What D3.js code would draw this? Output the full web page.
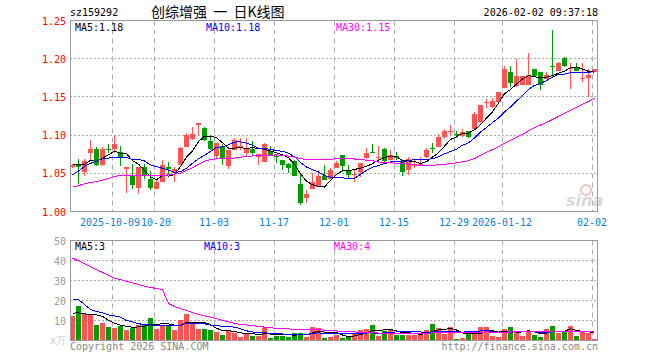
<!DOCTYPE html>
<html>
<head>
<meta charset="utf-8">
<script src="https://cdn.jsdelivr.net/npm/d3@7"></script>
<style>
  body { margin: 0; background: #fff; }
  text { font-family: "DejaVu Sans Mono", monospace; font-size: 10px; }
</style>
</head>
<body>
<div id="graph"></div>
<script>
// trading days shown
const dates = [
  "2025-09-22","2025-09-23","2025-09-24","2025-09-25","2025-09-26","2025-09-29","2025-09-30",
  "2025-10-09","2025-10-10","2025-10-13","2025-10-14","2025-10-15","2025-10-16","2025-10-17",
  "2025-10-20","2025-10-21","2025-10-22","2025-10-23","2025-10-24","2025-10-27","2025-10-28",
  "2025-10-29","2025-10-30","2025-10-31",
  "2025-11-03","2025-11-04","2025-11-05","2025-11-06","2025-11-07","2025-11-10","2025-11-11",
  "2025-11-12","2025-11-13","2025-11-14","2025-11-17","2025-11-18","2025-11-19","2025-11-20",
  "2025-11-21","2025-11-24","2025-11-25","2025-11-26","2025-11-27","2025-11-28",
  "2025-12-01","2025-12-02","2025-12-03","2025-12-04","2025-12-05","2025-12-08","2025-12-09",
  "2025-12-10","2025-12-11","2025-12-12","2025-12-15","2025-12-16","2025-12-17","2025-12-18",
  "2025-12-19","2025-12-22","2025-12-23","2025-12-24","2025-12-25","2025-12-26","2025-12-29",
  "2025-12-30","2025-12-31",
  "2026-01-05","2026-01-06","2026-01-07","2026-01-08","2026-01-09","2026-01-12","2026-01-13",
  "2026-01-14","2026-01-15","2026-01-16","2026-01-19","2026-01-20","2026-01-21","2026-01-22",
  "2026-01-23","2026-01-26","2026-01-27","2026-01-28","2026-01-29","2026-01-30",
  "2026-02-02"
];

const opens = [
  1.058,1.062,1.052,1.076,1.082,1.061,1.082,1.082,1.078,1.055,1.048,1.031,1.058,1.043,1.030,1.038,
  1.058,1.050,1.061,1.085,1.095,1.113,1.109,1.092,1.072,1.085,1.060,1.081,1.085,1.076,1.082,1.071,
  1.065,1.079,1.073,1.068,1.062,1.066,1.036,1.018,1.030,1.032,1.046,1.042,1.057,1.074,1.053,1.048,
  1.052,1.070,1.078,1.070,1.082,1.068,1.072,1.066,1.054,1.060,1.061,1.071,1.083,1.085,1.098,1.105,
  1.101,1.099,1.105,1.108,1.117,1.142,1.137,1.143,1.162,1.183,1.164,1.166,1.166,1.187,1.183,1.173,
  1.191,1.184,1.201,1.186,1.188,1.174,1.175,1.183
];
const highs = [
  1.062,1.069,1.069,1.094,1.084,1.085,1.089,1.100,1.086,1.058,1.062,1.058,1.062,1.053,1.042,1.067,
  1.065,1.058,1.084,1.103,1.110,1.116,1.111,1.100,1.090,1.088,1.081,1.096,1.096,1.096,1.092,1.075,
  1.090,1.086,1.074,1.068,1.064,1.068,1.048,1.028,1.050,1.054,1.061,1.057,1.066,1.074,1.061,1.055,
  1.063,1.083,1.088,1.086,1.083,1.081,1.078,1.067,1.071,1.069,1.071,1.083,1.090,1.101,1.108,1.113,
  1.106,1.108,1.105,1.130,1.140,1.147,1.149,1.157,1.190,1.191,1.200,1.178,1.207,1.187,1.183,1.182,
  1.237,1.196,1.202,1.194,1.195,1.195,1.186,1.186
];
const lows = [
  1.057,1.036,1.047,1.068,1.060,1.060,1.077,1.077,1.060,1.024,1.029,1.023,1.042,1.028,1.029,1.038,
  1.048,1.038,1.061,1.084,1.093,1.100,1.092,1.081,1.069,1.061,1.056,1.080,1.081,1.072,1.072,1.061,
  1.065,1.072,1.064,1.054,1.050,1.046,1.009,1.011,1.029,1.032,1.041,1.042,1.057,1.052,1.043,1.039,
  1.045,1.069,1.077,1.063,1.064,1.067,1.068,1.046,1.048,1.057,1.060,1.070,1.077,1.085,1.095,1.100,
  1.096,1.097,1.096,1.108,1.116,1.136,1.136,1.143,1.162,1.163,1.163,1.165,1.166,1.176,1.159,1.173,
  1.176,1.184,1.189,1.160,1.184,1.170,1.150,1.183
];
const closes = [
  1.061,1.058,1.066,1.082,1.061,1.082,1.080,1.089,1.070,1.058,1.035,1.058,1.046,1.031,1.038,1.061,
  1.056,1.056,1.083,1.100,1.102,1.116,1.093,1.082,1.090,1.069,1.081,1.093,1.086,1.082,1.076,1.075,
  1.089,1.073,1.072,1.061,1.057,1.046,1.011,1.023,1.038,1.047,1.041,1.054,1.064,1.060,1.048,1.049,
  1.063,1.076,1.077,1.071,1.066,1.074,1.070,1.052,1.069,1.062,1.062,1.081,1.082,1.097,1.105,1.106,
  1.100,1.104,1.098,1.127,1.139,1.143,1.145,1.156,1.187,1.168,1.178,1.178,1.179,1.178,1.165,1.179,
  1.189,1.194,1.191,1.188,1.184,1.175,1.179,1.186
];
// volume, 万手
const volumes = [
  12.5,17.5,13.3,12.8,8,9,7,6.5,7.5,5.5,6.5,8,8.3,11.5,6,8,7.5,5.5,10.5,13.5,8.5,6,6,5.5,
  4.5,3,5.5,4,2,3.5,2.5,2.2,6.5,1.5,2.5,2.5,2,4,4,2,7,6.5,1.5,1.8,2.8,1.2,2.0,3.8,5.2,6.0,
  8.0,2.5,4.8,6.0,3.0,3.0,2.7,2.7,3.8,5.2,8.5,6.5,3.2,7.0,1.0,1.2,5.0,3.3,7.0,7.0,2.2,1.7,
  5.8,7.0,4.3,2.5,4.7,3.0,2.0,6.0,7.5,3.7,4.2,7.5,2.5,4.2,3.7,0.8
];

// moving average values before enough days are on screen
const ma5Head = [1.062, 1.062, 1.062, 1.067];
const ma10Head = [1.048, 1.053, 1.059, 1.063, 1.066, 1.069, 1.070, 1.071, 1.071];
const ma30Head = [
  1.032,1.034,1.036,1.038,1.039,1.041,1.043,1.046,1.047,1.047,1.047,1.047,1.047,1.047,1.047,
  1.047,1.048,1.049,1.050,1.054,1.057,1.062,1.066,1.068,1.069,1.069,1.070,1.070,1.071
];
const volMa5Head = [13.7, 13.8, 13.3, 13];
const volMa10Head = [20.5, 20.5, 18, 15.5, 14.5, 13.8, 12.8, 12.3, 11.7];
const volMa30Head = [
  41.2,39.8,38.3,36.8,35.4,34,32.6,31.2,30.4,29.6,28.8,28.0,27.2,26.5,26,25.3,18.5,17,16,15,
  14,13,12.3,11.7,11,10,9.3,8.6,8
];

const tickDates = ["2025-10-09","2025-10-20","2025-11-03","2025-11-17","2025-12-01",
  "2025-12-15","2025-12-29","2026-01-12","2026-02-02"];
const tickLabels = ["2025-10-09","10-20","11-03","11-17","12-01","12-15","12-29","2026-01-12","02-02"];
const priceTicks = [1.00, 1.05, 1.10, 1.15, 1.20, 1.25];
const volTicks = [10, 20, 30, 40, 50];
const priceMaLabels = ["MA5:1.18", "MA10:1.18", "MA30:1.15"];
const volMaLabels = ["MA5:3", "MA10:3", "MA30:4"];

const red = "#ff5252", green = "#009c00", grid = "#aaa", border = "#999";
const maColors = ["#000", "#0000ff", "#ff00ff"];

const svg = d3.select("#graph")
    .append("svg")
    .attr("width", 660)
    .attr("height", 360);

// scales
const x = d3.scaleBand().domain(dates).range([70, 597]).paddingInner(1 / 6).paddingOuter(0).align(0);
const yP = d3.scaleLinear().domain([1.00, 1.25]).range([211.5, 20.5]);
const yV = d3.scaleLinear().domain([0, 50]).range([340.5, 240.5]);
const cx = d => Math.round(x(d)) + 2.5;

function movingAvg(vals, n, head) {
    return vals.map((v, i) => i < n - 1 ? head[i] : d3.mean(vals.slice(i - n + 1, i + 1)));
}

// title line
svg.append("text").attr("x", 70).attr("y", 16).text("sz159292");
svg.append("text").attr("x", 151).attr("y", 17)
    .style("font-family", "'Noto Sans CJK SC', sans-serif").style("font-size", "14px")
    .style("white-space", "pre")
    .text("创综增强  一  日K线图");
svg.append("text").attr("x", 598).attr("y", 16).attr("text-anchor", "end").text("2026-02-02 09:37:18");

// panel grids
function drawGrid(yScale, ticks, y0, y1) {
    svg.append("g").selectAll("line")
        .data(ticks)
        .enter().append("line")
        .attr("x1", 70).attr("x2", 597)
        .attr("y1", d => Math.round(yScale(d) - 0.5) + 0.5)
        .attr("y2", d => Math.round(yScale(d) - 0.5) + 0.5)
        .style("stroke", grid).style("stroke-dasharray", "2,2");
    svg.append("g").selectAll("line")
        .data(tickDates)
        .enter().append("line")
        .attr("x1", d => Math.round(x(d)) + 0.5).attr("x2", d => Math.round(x(d)) + 0.5)
        .attr("y1", y0).attr("y2", y1)
        .style("stroke", grid).style("stroke-dasharray", "5,4");
}
drawGrid(yP, priceTicks.slice(1, -1), 20.5, 211.5);
drawGrid(yV, volTicks.slice(0, -1), 240.5, 340.5);

// sina watermark
svg.append("circle").attr("cx", 586).attr("cy", 190).attr("r", 5)
    .style("fill", "none").style("stroke", "#f0c0c0").style("stroke-width", 2);
svg.append("text").attr("x", 566).attr("y", 206)
    .style("font-family", "'DejaVu Sans', sans-serif").style("font-size", "16px")
    .style("font-style", "italic").style("font-weight", "bold").style("fill", "#d8d8d8")
    .text("sina");

// candles
const candles = svg.append("g").selectAll("g")
    .data(dates)
    .enter().append("g")
    .style("shape-rendering", "crispEdges");

candles.append("line")
    .attr("x1", d => cx(d)).attr("x2", d => cx(d))
    .attr("y1", (d, i) => yP(highs[i])).attr("y2", (d, i) => yP(lows[i]))
    .style("stroke", (d, i) => closes[i] >= opens[i] ? red : green);

candles.append("rect")
    .attr("x", d => Math.round(x(d)))
    .attr("width", x.bandwidth())
    .attr("y", (d, i) => yP(Math.max(opens[i], closes[i])))
    .attr("height", (d, i) => Math.max(1, yP(Math.min(opens[i], closes[i])) - yP(Math.max(opens[i], closes[i]))))
    .style("fill", (d, i) => closes[i] >= opens[i] ? red : green);

// volume bars
svg.append("g").selectAll("rect")
    .data(dates)
    .enter().append("rect")
    .attr("x", d => Math.round(x(d)))
    .attr("width", x.bandwidth())
    .attr("y", (d, i) => yV(volumes[i]))
    .attr("height", (d, i) => yV(0) - yV(volumes[i]))
    .style("fill", (d, i) => closes[i] >= opens[i] ? red : green)
    .style("shape-rendering", "crispEdges");

// moving average lines
const priceMAs = [movingAvg(closes, 5, ma5Head), movingAvg(closes, 10, ma10Head), movingAvg(closes, 30, ma30Head)];
const volMAs = [movingAvg(volumes, 5, volMa5Head), movingAvg(volumes, 10, volMa10Head), movingAvg(volumes, 30, volMa30Head)];

function drawLines(series, yScale) {
    const line = d3.line().x((d, i) => cx(dates[i])).y(d => yScale(d));
    svg.append("g").selectAll("path")
        .data(series)
        .enter().append("path")
        .attr("d", d => line(d))
        .style("fill", "none")
        .style("stroke", (d, i) => maColors[i])
        .style("stroke-width", 1)
        .style("shape-rendering", "crispEdges");
}
drawLines(priceMAs, yP);
drawLines(volMAs, yV);

// panel borders
[[20.5, 211.5], [240.5, 340.5]].forEach(b => {
    svg.append("rect")
        .attr("x", 70.5).attr("y", b[0])
        .attr("width", 527).attr("height", b[1] - b[0])
        .style("fill", "none").style("stroke", border);
});

// axis labels
svg.append("g").selectAll("text")
    .data(priceTicks)
    .enter().append("text")
    .attr("x", 66).attr("y", d => yP(d) + 4)
    .attr("text-anchor", "end").style("fill", "#f00")
    .text(d => d3.format(".2f")(d));

svg.append("g").selectAll("text")
    .data(volTicks)
    .enter().append("text")
    .attr("x", 66).attr("y", d => yV(d) + 4)
    .attr("text-anchor", "end").style("fill", "#999")
    .text(d => d);
svg.append("text").attr("x", 66).attr("y", 344).attr("text-anchor", "end")
    .style("fill", "#ccc").text("x万");

// date labels; the first two sit very close, as on the original
svg.append("g").selectAll("text")
    .data(tickDates)
    .enter().append("text")
    .attr("x", (d, i) => Math.round(x(d)) + (i === 0 ? -2 : i === 1 ? 2 : 0))
    .attr("y", 226)
    .attr("text-anchor", "middle").style("fill", "#0a7fd8")
    .text((d, i) => tickLabels[i]);

// legends
const legendX = [75, 206, 336];
priceMaLabels.forEach((t, i) => {
    svg.append("text").attr("x", legendX[i]).attr("y", 31).style("fill", maColors[i]).text(t);
});
const volLegendX = [75, 204, 334];
volMaLabels.forEach((t, i) => {
    svg.append("text").attr("x", volLegendX[i]).attr("y", 250).style("fill", maColors[i]).text(t);
});

// footer
svg.append("text").attr("x", 70).attr("y", 350).style("fill", "#888").text("Copyright 2026 SINA.COM");
svg.append("text").attr("x", 598).attr("y", 350).attr("text-anchor", "end").style("fill", "#888")
    .text("http://finance.sina.com.cn");
</script>
</body>
</html>
